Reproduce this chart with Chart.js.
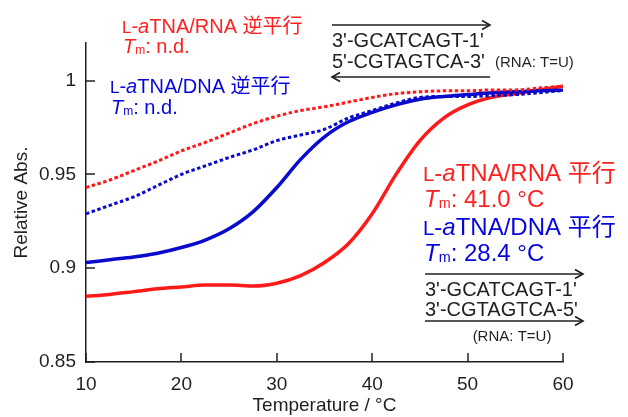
<!DOCTYPE html>
<html>
<head>
<meta charset="utf-8">
<script src="https://cdn.jsdelivr.net/npm/chart.js@4/dist/chart.umd.min.js"></script>
<style>
  html, body { margin: 0; padding: 0; background: #fff; }
  #wrap { width: 628px; height: 417px; }
</style>
</head>
<body>
<div id="wrap"><canvas id="c" width="628" height="417"></canvas></div>
<script>
// ---- data ----
const temps = [10, 12.5, 15, 17.5, 20, 22.5, 25, 27.5, 30, 32.5, 35, 37.5, 40, 42.5, 45, 47.5, 50, 52.5, 55, 57.5, 60];
const rnaParallel = [0.885, 0.886, 0.8875, 0.889, 0.890, 0.891, 0.891, 0.8905, 0.892, 0.896, 0.903, 0.913, 0.929, 0.950, 0.968, 0.980, 0.987, 0.991, 0.993, 0.995, 0.997];
const dnaParallel = [0.903, 0.9045, 0.906, 0.908, 0.911, 0.915, 0.921, 0.930, 0.943, 0.958, 0.970, 0.978, 0.983, 0.987, 0.990, 0.9915, 0.9925, 0.9935, 0.994, 0.9945, 0.995];
const rnaAntiparallel = [0.943, 0.947, 0.952, 0.957, 0.9625, 0.967, 0.972, 0.977, 0.981, 0.984, 0.986, 0.9885, 0.991, 0.993, 0.994, 0.9945, 0.9945, 0.995, 0.995, 0.996, 0.997];
const dnaAntiparallel = [0.929, 0.9335, 0.938, 0.944, 0.950, 0.9545, 0.959, 0.963, 0.968, 0.971, 0.974, 0.980, 0.984, 0.988, 0.991, 0.9915, 0.9915, 0.992, 0.9925, 0.9935, 0.9947];
const xTicks = [10, 20, 30, 40, 50, 60];
const yTicks = [0.85, 0.9, 0.95, 1];
const yTickLabels = ['0.85', '0.9', '0.95', '1'];

// ---- styles ----
const RED = '#ff1a1a';
const BLUE = '#0a0acc';
const RED_T = '#ff2020';
const BLUE_T = '#0505dd';
const INK = '#231f20';
const LAT = '"Liberation Sans", Arial, sans-serif';
const CJK = '"Noto Sans CJK JP", "Noto Sans CJK SC", sans-serif';

function pts(ys) { return temps.map((t, i) => ({ x: t, y: ys[i] })); }

function drawRich(ctx, x, y, segs, color, size) {
  ctx.save();
  ctx.fillStyle = color;
  ctx.textBaseline = 'alphabetic';
  ctx.textAlign = 'left';
  let cx = x;
  for (const s of segs) {
    const sz = size * (s.scale || 1);
    ctx.font = (s.italic ? 'italic ' : '') + sz + 'px ' + (s.cjk ? CJK : LAT);
    ctx.fillText(s.t, cx, y + (s.dy || 0) * size);
    cx += ctx.measureText(s.t).width + (s.gap || 0);
  }
  ctx.restore();
}
function name(kind, ori) {
  return [{ t: 'L', scale: 0.85 }, { t: '-' }, { t: 'a', italic: true }, { t: 'TNA/' + kind + ' ' }, { t: ori, cjk: true }];
}
function tm(rest) {
  return [{ t: 'T', italic: true }, { t: 'm', scale: 0.6, dy: 0.03 }, { t: rest }];
}
function arrow(ctx, x1, x2, y, dir) {
  ctx.save();
  ctx.strokeStyle = INK; ctx.lineWidth = 1.6;
  ctx.beginPath(); ctx.moveTo(x1, y); ctx.lineTo(x2, y); ctx.stroke();
  const hx = dir > 0 ? x2 : x1;
  ctx.beginPath();
  ctx.moveTo(hx - dir * 8, y - 4.5); ctx.lineTo(hx, y); ctx.lineTo(hx - dir * 8, y + 4.5);
  ctx.stroke();
  ctx.restore();
}
function plain(ctx, t, x, y, size, align) {
  ctx.save();
  ctx.fillStyle = INK; ctx.font = size + 'px ' + LAT;
  ctx.textAlign = align || 'left'; ctx.textBaseline = 'alphabetic';
  ctx.fillText(t, x, y);
  ctx.restore();
}

const innerTicks = {
  id: 'innerTicks',
  afterDatasetsDraw(chart) {
    const ctx = chart.ctx, xs = chart.scales.x, ys = chart.scales.y;
    ctx.save();
    ctx.strokeStyle = INK; ctx.lineWidth = 1.5;
    ctx.beginPath();
    xTicks.forEach(v => { const px = Math.round(xs.getPixelForValue(v)); ctx.moveTo(px, ys.bottom); ctx.lineTo(px, ys.bottom - 9); });
    yTicks.forEach(v => { const py = Math.round(ys.getPixelForValue(v)); ctx.moveTo(xs.left, py); ctx.lineTo(xs.left + 9, py); });
    ctx.stroke();
    ctx.restore();
  }
};

const annotations = {
  id: 'annotations',
  afterDraw(chart) {
    const ctx = chart.ctx;
    // antiparallel labels (top-left)
    drawRich(ctx, 122, 33, name('RNA', '逆平行'), RED_T, 20);
    drawRich(ctx, 123, 53, tm(': n.d.'), RED_T, 20);
    drawRich(ctx, 110, 93, name('DNA', '逆平行'), BLUE_T, 20);
    drawRich(ctx, 111, 114, tm(': n.d.'), BLUE_T, 20);
    // parallel labels (right)
    drawRich(ctx, 423, 181, name('RNA', '平行'), RED_T, 24);
    drawRich(ctx, 424, 207, tm(': 41.0 °C'), RED_T, 24);
    drawRich(ctx, 423, 235, name('DNA', '平行'), BLUE_T, 24);
    drawRich(ctx, 424, 261, tm(': 28.4 °C'), BLUE_T, 24);
    // antiparallel duplex scheme
    arrow(ctx, 332, 490, 25, 1);
    plain(ctx, "3'-GCATCAGT-1'", 332, 47, 20);
    plain(ctx, "5'-CGTAGTCA-3'", 332, 68, 20);
    plain(ctx, '(RNA: T=U)', 495, 67, 15);
    arrow(ctx, 332, 490, 77, -1);
    // parallel duplex scheme
    arrow(ctx, 425, 583, 274, 1);
    plain(ctx, "3'-GCATCAGT-1'", 425, 296, 20);
    plain(ctx, "3'-CGTAGTCA-5'", 425, 316, 20);
    arrow(ctx, 425, 583, 321, 1);
    plain(ctx, '(RNA: T=U)', 512, 341, 15, 'center');
  }
};

const solid = (label, data, color, order) => ({
  label, data: pts(data), borderColor: color, backgroundColor: color,
  borderWidth: 3.5, pointRadius: 0, cubicInterpolationMode: 'monotone', fill: false, order
});
const dotted = (label, data, color, order) => ({
  label, data: pts(data), borderColor: color, backgroundColor: color,
  borderWidth: 3, borderDash: [3.5, 2.5], pointRadius: 0, cubicInterpolationMode: 'monotone', fill: false, order
});

new Chart(document.getElementById('c'), {
  type: 'line',
  data: {
    datasets: [
      dotted('L-aTNA/DNA antiparallel', dnaAntiparallel, BLUE, 1),
      dotted('L-aTNA/RNA antiparallel', rnaAntiparallel, RED, 2),
      solid('L-aTNA/DNA parallel', dnaParallel, BLUE, 3),
      solid('L-aTNA/RNA parallel', rnaParallel, RED, 4)
    ]
  },
  options: {
    responsive: false,
    devicePixelRatio: 1,
    animation: false,
    layout: { padding: { top: 43, right: 65, left: 0, bottom: 0 } },
    plugins: { legend: { display: false }, tooltip: { enabled: false } },
    scales: {
      x: {
        type: 'linear', min: 10, max: 60,
        afterBuildTicks: s => { s.ticks = xTicks.map(v => ({ value: v })); },
        afterFit: s => { s.height = 55; },
        ticks: { font: { family: LAT, size: 19 }, color: INK, padding: 11, maxRotation: 0, callback: v => String(v) },
        grid: { display: false, drawTicks: false },
        border: { display: true, color: INK, width: 1.5 },
        title: { display: true, text: 'Temperature / °C', font: { family: LAT, size: 19 }, color: INK, padding: { top: 0, bottom: 0 } }
      },
      y: {
        type: 'linear', min: 0.85, max: 1.02,
        afterBuildTicks: s => { s.ticks = yTicks.map(v => ({ value: v })); },
        afterFit: s => { s.width = 86; },
        ticks: { font: { family: LAT, size: 19 }, color: INK, padding: 10, callback: (v) => yTickLabels[yTicks.findIndex(t => Math.abs(t - v) < 1e-6)] },
        grid: { display: false, drawTicks: false },
        border: { display: true, color: INK, width: 1.5 },
        title: { display: true, text: 'Relative Abs.', font: { family: LAT, size: 19 }, color: INK, padding: { top: 10, bottom: 0 } }
      }
    }
  },
  plugins: [innerTicks, annotations]
});
</script>
</body>
</html>
